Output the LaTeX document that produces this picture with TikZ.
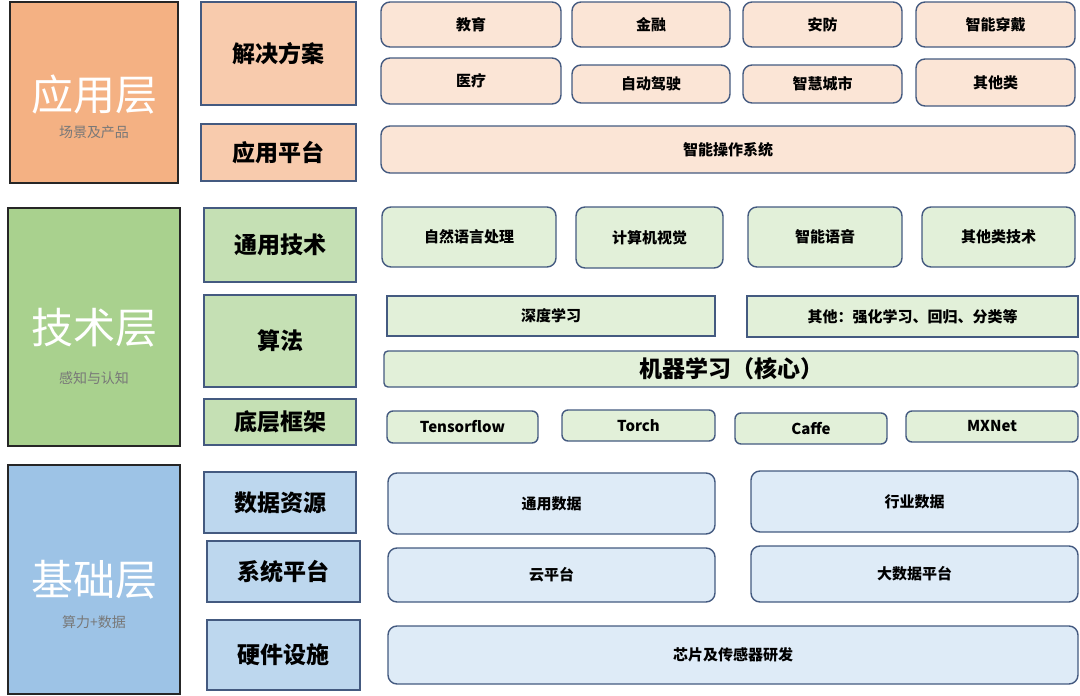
\documentclass[tikz,border=0pt]{standalone}
\usepackage{fontspec}
\setmainfont{Noto Sans CJK SC}
\usepackage{tikz}
\usetikzlibrary{positioning}
\definecolor{layorange}{RGB}{244,177,131}
\definecolor{laygreen}{RGB}{169,209,142}
\definecolor{layblue}{RGB}{157,195,230}
\definecolor{catorange}{RGB}{248,203,173}
\definecolor{catgreen}{RGB}{197,224,180}
\definecolor{catblue}{RGB}{189,215,238}
\definecolor{itmorange}{RGB}{251,229,214}
\definecolor{itmgreen}{RGB}{226,240,217}
\definecolor{itmblue}{RGB}{222,235,247}
\definecolor{edgeblue}{RGB}{68,90,128}
\definecolor{subgray}{RGB}{120,120,120}

\begin{document}
\begin{tikzpicture}[x=1pt, y=-1pt,
  layer/.style={rectangle, draw=black!85, line width=1.6pt, inner sep=0pt},
  laytitle/.style={text=white, font=\fontsize{42}{46}\selectfont, inner sep=0pt},
  laysub/.style={text=subgray, font=\fontsize{14}{16}\selectfont, inner sep=0pt},
  cat/.style={rectangle, draw=edgeblue, line width=1.4pt, inner sep=0pt, font=\fontsize{23}{26}\selectfont\bfseries},
  item/.style={rectangle, rounded corners=9pt, draw=edgeblue, line width=1.4pt, inner sep=0pt, font=\fontsize{15}{18}\selectfont\bfseries},
  sqitem/.style={item, rounded corners=0pt},
  ord/.style={fill=itmorange}, grn/.style={fill=itmgreen}, blu/.style={fill=itmblue}
]
\useasboundingbox (0,0) rectangle (1080,696);

% layers
\node[layer, fill=layorange, minimum width=168, minimum height=181] (lapp) at (94,92.5) {};
\node[layer, fill=laygreen, minimum width=172, minimum height=238] (ltech) at (94,327) {};
\node[layer, fill=layblue, minimum width=172, minimum height=229] (lbase) at (94,579.5) {};
\node[laytitle] (tapp) at (94,95) {应用层};
\node[laysub] (sapp) at (94,132) {场景及产品};
\node[laytitle] (ttech) at (94,328) {技术层};
\node[laysub] (stech) at (94,378) {感知与认知};
\node[laytitle] (tbase) at (94,580) {基础层};
\node[laysub] (sbase) at (94,622) {算力+数据};

% categories
\node[cat, fill=catorange, minimum width=155, minimum height=103] (sol) at (278.5,53.5) {解决方案};
\node[cat, fill=catorange, minimum width=155, minimum height=57] (plat) at (278.5,152.5) {应用平台};
\node[cat, fill=catgreen, minimum width=152, minimum height=74] (gen) at (280,245) {通用技术};
\node[cat, fill=catgreen, minimum width=152, minimum height=92] (algo) at (280,341) {算法};
\node[cat, fill=catgreen, minimum width=152, minimum height=46] (frame) at (280,422) {底层框架};
\node[cat, fill=catblue, minimum width=152, minimum height=61] (datares) at (280,502.5) {数据资源};
\node[cat, fill=catblue, minimum width=153, minimum height=61] (syspl) at (283.5,571.5) {系统平台};
\node[cat, fill=catblue, minimum width=153, minimum height=70] (hw) at (283.5,655) {硬件设施};

% application layer items
\node[item, ord, minimum width=180, minimum height=45] (edu) at (471,24.5) {教育};
\node[item, ord, minimum width=158, minimum height=45] (fin) at (651,24.5) {金融};
\node[item, ord, minimum width=159, minimum height=45] (secu) at (822.5,24.5) {安防};
\node[item, ord, minimum width=159, minimum height=45] (wear) at (995.5,24.5) {智能穿戴};
\node[item, ord, minimum width=180, minimum height=46] (med) at (471,81) {医疗};
\node[item, ord, minimum width=158, minimum height=38] (drive) at (651,84) {自动驾驶};
\node[item, ord, minimum width=159, minimum height=38] (city) at (822.5,84) {智慧城市};
\node[item, ord, minimum width=159, minimum height=47] (othapp) at (995.5,82.5) {其他类};
\node[item, ord, minimum width=694, minimum height=47] (os) at (728,149.5) {智能操作系统};

% technology layer items
\node[item, grn, minimum width=174, minimum height=60] (nlp) at (469,237) {自然语言处理};
\node[item, grn, minimum width=147, minimum height=61] (cv) at (649.5,237.5) {计算机视觉};
\node[item, grn, minimum width=154, minimum height=60] (voice) at (825,237) {智能语音};
\node[item, grn, minimum width=153, minimum height=60] (othtech) at (998.5,237) {其他类技术};
\node[sqitem, grn, minimum width=328, minimum height=40] (dl) at (551,316) {深度学习};
\node[sqitem, grn, minimum width=331, minimum height=41] (othalg) at (912.5,316.5) {其他：强化学习、回归、分类等};
\node[item, grn, rounded corners=4pt, minimum width=694, minimum height=36,
  font=\fontsize{23}{25}\selectfont\bfseries] (ml) at (731,369) {机器学习（核心）};
\node[item, grn, rounded corners=6pt, minimum width=151, minimum height=32] (tf) at (462.5,427) {Tensorflow};
\node[item, grn, rounded corners=6pt, minimum width=153, minimum height=31] (torch) at (638.5,425.5) {Torch};
\node[item, grn, rounded corners=6pt, minimum width=152, minimum height=31] (caffe) at (811,428.5) {Caffe};
\node[item, grn, rounded corners=6pt, minimum width=172, minimum height=31] (mxnet) at (992,426.5) {MXNet};

% base layer items
\node[item, blu, minimum width=327, minimum height=61] (gdata) at (551.5,503.5) {通用数据};
\node[item, blu, minimum width=327, minimum height=61] (idata) at (914.5,501.5) {行业数据};
\node[item, blu, minimum width=327, minimum height=54] (cloud) at (551.5,575) {云平台};
\node[item, blu, minimum width=327, minimum height=56] (bigdata) at (914.5,574) {大数据平台};
\node[item, blu, minimum width=690, minimum height=58] (chip) at (733,655) {芯片及传感器研发};
\end{tikzpicture}
\end{document}
